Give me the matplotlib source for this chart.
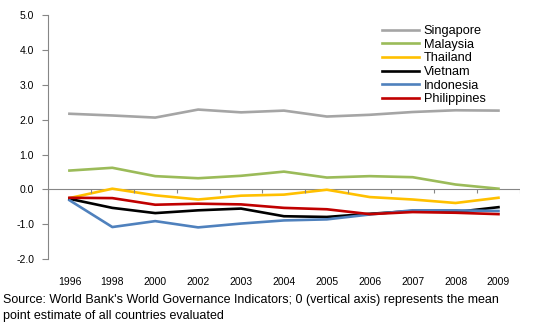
import matplotlib.pyplot as plt

# governance scores
years = ['1996', '1998', '2000', '2002', '2003', '2004', '2005', '2006', '2007', '2008', '2009']
singapore = [2.17, 2.12, 2.06, 2.29, 2.21, 2.26, 2.09, 2.14, 2.22, 2.27, 2.26]
malaysia = [0.54, 0.62, 0.38, 0.32, 0.39, 0.51, 0.34, 0.38, 0.35, 0.14, 0.02]
thailand = [-0.25, 0.02, -0.17, -0.29, -0.18, -0.15, -0.01, -0.22, -0.29, -0.39, -0.24]
vietnam = [-0.27, -0.53, -0.68, -0.60, -0.55, -0.77, -0.79, -0.70, -0.62, -0.65, -0.51]
indonesia = [-0.31, -1.08, -0.91, -1.09, -0.98, -0.89, -0.86, -0.72, -0.60, -0.60, -0.62]
philippines = [-0.24, -0.25, -0.44, -0.41, -0.43, -0.53, -0.57, -0.71, -0.65, -0.67, -0.71]

series = [('Singapore', singapore, '#A5A5A5'),
          ('Malaysia', malaysia, '#9BBB59'),
          ('Thailand', thailand, '#FFC000'),
          ('Vietnam', vietnam, '#000000'),
          ('Indonesia', indonesia, '#4F81BD'),
          ('Philippines', philippines, '#C00000')]

plt.rcParams['font.family'] = ['Liberation Sans', 'DejaVu Sans']

fig = plt.figure(figsize=(5.45, 3.28), dpi=100)
ax = fig.add_axes([0.088, 0.21, 0.866, 0.744])

x = list(range(len(years)))
for name, vals, col in series:
    ax.plot(x, vals, color=col, lw=1.9, label=name, solid_joinstyle='round')

ax.set_xlim(-0.5, len(years) - 0.5)
ax.set_ylim(-2.0, 5.0)

# zero line with category separators
ax.axhline(0, color='#868686', lw=0.8, zorder=0)
ax.vlines([i - 0.5 for i in range(len(years) + 1)], -0.11, 0, color='#868686', lw=0.8)

ax.set_yticks([-2, -1, 0, 1, 2, 3, 4, 5])
ax.set_yticklabels(['%.1f' % v for v in [-2, -1, 0, 1, 2, 3, 4, 5]])
ax.set_xticks(x)
ax.set_xticklabels(years)
ax.tick_params(axis='x', length=0, pad=13, labelsize=7.5)
ax.tick_params(axis='y', length=4, color='#868686', width=0.8, labelsize=7.5, pad=6)

for s in ['top', 'right', 'bottom']:
    ax.spines[s].set_visible(False)
ax.spines['left'].set_color('#868686')
ax.spines['left'].set_linewidth(0.8)

leg = ax.legend(loc='upper left', bbox_to_anchor=(0.697, 0.98), frameon=False,
                fontsize=9.2, handlelength=2.9, handletextpad=0.35,
                labelspacing=0.13, borderaxespad=0)
for t in leg.get_texts():
    t.set_color('#000000')

fig.text(0.006, 0.085, "Source: World Bank's World Governance Indicators; 0 (vertical axis) represents the mean",
         fontsize=9.0, va='center')
fig.text(0.006, 0.037, "point estimate of all countries evaluated", fontsize=9.0, va='center')

fig.savefig('out.png', dpi=100)
